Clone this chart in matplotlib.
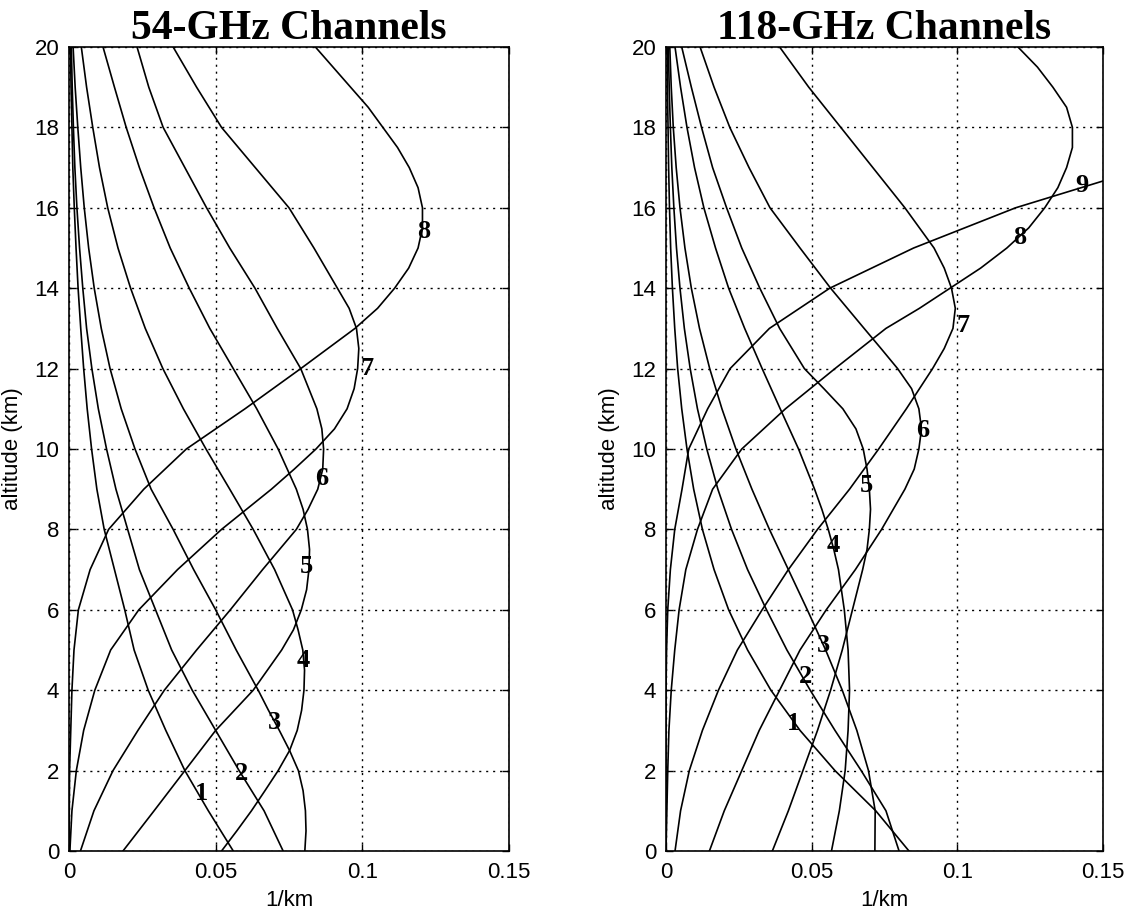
import numpy as np
import matplotlib
matplotlib.use("Agg")
import matplotlib.pyplot as plt

plt.rcParams["font.family"] = ["Liberation Sans", "DejaVu Sans"]

# altitude grid (km)
ALT = list(np.arange(0, 21, 1.0))

# 54-GHz channel weighting functions (1/km), channels 1..8
W54_1 = [0.056, 0.0475, 0.0395, 0.033, 0.027, 0.0222, 0.019, 0.0155, 0.012, 0.0095, 0.0077,
         0.0062, 0.005, 0.004, 0.0031, 0.0024, 0.0018, 0.0013, 0.001, 0.0007, 0.0005]
W54_2 = [0.073, 0.0665, 0.058, 0.050, 0.042, 0.035, 0.0295, 0.024, 0.020, 0.016, 0.0128,
         0.010, 0.0078, 0.006, 0.0047, 0.0036, 0.0027, 0.002, 0.0015, 0.0011, 0.0008]
ALT54_3 = [0, 0.5, 1, 1.5, 2, 2.5, 3, 3.5, 4, 5, 6, 7, 8, 9, 10, 11, 12, 13, 14, 15, 16,
           17, 18, 19, 20]
W54_3 = [0.0804, 0.0808, 0.0806, 0.0798, 0.0782, 0.0752, 0.0717, 0.068, 0.0645, 0.057,
         0.050, 0.0425, 0.0355, 0.028, 0.0225, 0.0178, 0.014, 0.011, 0.0086, 0.0067, 0.0052,
         0.004, 0.003, 0.0021, 0.0014]
ALT54_4 = [0, 0.5, 1, 1.5, 2, 2.5, 3, 3.5, 4, 4.5, 5, 5.5, 6, 7, 8, 9, 10, 11, 12, 13, 14,
           15, 16, 17, 18, 19, 20]
W54_4 = [0.052, 0.0572, 0.0622, 0.0668, 0.0713, 0.0752, 0.0778, 0.0793, 0.0801, 0.0803,
         0.0797, 0.0781, 0.0762, 0.0701, 0.0628, 0.0548, 0.0467, 0.039, 0.032, 0.026, 0.021,
         0.0167, 0.0132, 0.0104, 0.0081, 0.006, 0.0042]
ALT54_5 = [0, 1, 2, 3, 4, 5, 5.5, 6, 6.5, 7, 7.5, 8, 8.5, 9, 10, 11, 12, 13, 14, 15, 16,
           17, 18, 19, 20]
W54_5 = [0.0184, 0.029, 0.0395, 0.050, 0.0628, 0.0725, 0.0765, 0.0792, 0.081, 0.0818,
         0.082, 0.0813, 0.0798, 0.0775, 0.0713, 0.064, 0.056, 0.048, 0.041, 0.0345, 0.029,
         0.024, 0.0195, 0.0155, 0.0116]
ALT54_6 = [0, 1, 2, 3, 4, 5, 6, 7, 8, 8.5, 9, 9.5, 10, 10.5, 11, 12, 13, 14, 15, 16, 17,
           18, 19, 20]
W54_6 = [0.0039, 0.0085, 0.015, 0.0235, 0.0325, 0.0435, 0.055, 0.066, 0.0775, 0.0815,
         0.0848, 0.0865, 0.0868, 0.0862, 0.0845, 0.079, 0.071, 0.0634, 0.0548, 0.0469,
         0.0395, 0.0321, 0.0272, 0.0232]
ALT54_7 = [0, 1, 2, 3, 4, 5, 6, 7, 7.5, 8, 8.5, 9, 9.5, 10, 10.5, 11, 11.5, 12, 12.5, 13,
           13.5, 14, 15, 16, 17, 18, 19, 20]
W54_7 = [0.0003, 0.001, 0.0025, 0.005, 0.0088, 0.0142, 0.0238, 0.037, 0.0445, 0.052,
         0.0605, 0.069, 0.0768, 0.0842, 0.0905, 0.0948, 0.0972, 0.0984, 0.0988, 0.098,
         0.0955, 0.0915, 0.0835, 0.075, 0.0635, 0.052, 0.0435, 0.0355]
ALT54_8 = [0, 2, 4, 5, 6, 7, 8, 9, 10, 11, 12, 13, 13.5, 14, 14.5, 15, 15.5, 16, 16.5,
           17, 17.5, 18, 18.5, 19, 19.5, 20]
W54_8 = [0.0, 0.0002, 0.001, 0.0017, 0.0032, 0.0072, 0.0135, 0.0255, 0.040, 0.060, 0.079,
         0.0975, 0.1052, 0.111, 0.1158, 0.119, 0.1205, 0.1205, 0.119, 0.116, 0.112, 0.107,
         0.102, 0.096, 0.090, 0.084]

# 118-GHz channel weighting functions (1/km), channels 1..9
W118_1 = [0.0834, 0.072, 0.058, 0.046, 0.036, 0.028, 0.0215, 0.0165, 0.0125, 0.0095, 0.0072,
          0.0054, 0.004, 0.003, 0.0022, 0.0016, 0.0012, 0.0009, 0.0007, 0.0005, 0.0004]
W118_2 = [0.080, 0.0755, 0.067, 0.058, 0.0495, 0.0415, 0.0345, 0.028, 0.0225, 0.0178, 0.014,
          0.0108, 0.0083, 0.0063, 0.0048, 0.0036, 0.0027, 0.002, 0.0015, 0.0011, 0.0008]
W118_3 = [0.0717, 0.0718, 0.0695, 0.0655, 0.0605, 0.0548, 0.0485, 0.042, 0.0355, 0.0295,
          0.024, 0.0192, 0.015, 0.0115, 0.0087, 0.0065, 0.0048, 0.0035, 0.0025, 0.0018, 0.0013]
ALT118_4 = [0, 1, 2, 3, 4, 5, 6, 7, 7.5, 8, 8.5, 9, 10, 11, 12, 13, 14, 15, 16, 17, 18,
            19, 20]
W118_4 = [0.0568, 0.0595, 0.0615, 0.0625, 0.063, 0.0625, 0.0612, 0.0592, 0.0576, 0.0557,
          0.0535, 0.051, 0.0455, 0.0392, 0.033, 0.027, 0.0215, 0.017, 0.013, 0.0098, 0.0072,
          0.005, 0.0031]
ALT118_5 = [0, 1, 2, 3, 4, 5, 6, 7, 7.5, 8, 8.5, 9, 9.5, 10, 10.5, 11, 11.5, 12, 13, 14,
            15, 16, 17, 18, 19, 20]
W118_5 = [0.0365, 0.042, 0.047, 0.052, 0.0565, 0.0605, 0.064, 0.0675, 0.069, 0.0698,
          0.0702, 0.0698, 0.069, 0.0677, 0.0652, 0.0607, 0.0542, 0.0475, 0.039, 0.0322,
          0.026, 0.0208, 0.016, 0.0122, 0.0087, 0.0054]
ALT118_6 = [0, 1, 2, 3, 4, 5, 6, 7, 8, 9, 9.5, 10, 10.5, 11, 11.5, 12, 12.5, 13, 14, 15,
            16, 17, 18, 19, 20]
W118_6 = [0.0149, 0.020, 0.026, 0.032, 0.039, 0.046, 0.055, 0.065, 0.074, 0.082, 0.0852,
          0.0868, 0.0877, 0.0868, 0.0843, 0.0795, 0.0738, 0.068, 0.0565, 0.046, 0.0357,
          0.0285, 0.0219, 0.0165, 0.0117]
ALT118_7 = [0, 1, 2, 3, 4, 5, 6, 7, 8, 9, 10, 11, 12, 12.5, 13, 13.5, 14, 14.5, 15, 16,
            17, 18, 19, 20]
W118_7 = [0.0031, 0.005, 0.008, 0.0125, 0.018, 0.0245, 0.033, 0.042, 0.052, 0.063, 0.073,
          0.0825, 0.0915, 0.0955, 0.0985, 0.0993, 0.098, 0.0955, 0.092, 0.082, 0.071, 0.060,
          0.049, 0.039]
ALT118_8 = [0, 1, 2, 3, 4, 5, 6, 7, 8, 9, 10, 11, 12, 13, 13.5, 14, 14.5, 15, 15.5, 16,
            16.5, 17, 17.5, 18, 18.5, 19, 19.5, 20]
W118_8 = [0.0, 0.0003, 0.0006, 0.001, 0.0018, 0.003, 0.0045, 0.0068, 0.0108, 0.016, 0.026,
          0.041, 0.058, 0.0755, 0.087, 0.0975, 0.108, 0.117, 0.1245, 0.130, 0.1345, 0.1375,
          0.1395, 0.1395, 0.1375, 0.1328, 0.1275, 0.1208]
ALT118_9 = list(np.arange(0, 18, 1.0))
W118_9 = [0.0, 0.0, 0.0, 0.0, 0.0, 0.0002, 0.0006, 0.0015, 0.003, 0.0055, 0.0078,
          0.0143, 0.022, 0.0355, 0.0562, 0.085, 0.120, 0.165]

# curve number labels (x, altitude)
LBL54 = [(0.0452, 1.43), (0.0589, 1.93), (0.0702, 3.2), (0.0798, 4.74),
         (0.081, 7.07), (0.0862, 9.26), (0.1015, 12.0), (0.121, 15.4)]
LBL118 = [(0.0437, 3.17), (0.048, 4.33), (0.054, 5.12), (0.0574, 7.6),
          (0.0688, 9.09), (0.0882, 10.46), (0.102, 13.07), (0.1214, 15.26),
          (0.1426, 16.55)]

W = 1128
H = 913
fig = plt.figure(figsize=(W / 100, H / 100), dpi=100)
ax1 = fig.add_axes([69 / W, 62 / H, 440 / W, 804 / H])
ax2 = fig.add_axes([666 / W, 62 / H, 437 / W, 804 / H])


def setup(ax, title):
    ax.set_xlim(0, 0.15)
    ax.set_ylim(0, 20)
    ax.set_xticks([0, 0.05, 0.1, 0.15])
    ax.set_xticklabels(["0", "0.05", "0.1", "0.15"])
    ax.set_yticks(np.arange(0, 21, 2))
    ax.tick_params(direction="in", length=5, width=1.0, top=True, right=True,
                   labelsize=16, pad=8)
    ax.tick_params(axis="y", pad=7)
    ax.grid(True, color="black", linestyle=(0, (1.5, 3.5)), linewidth=1.0)
    for s in ax.spines.values():
        s.set_linewidth(1.2)
    ax.set_xlabel("1/km", fontsize=16, labelpad=5)
    ax.set_ylabel("altitude (km)", fontsize=16, labelpad=8)
    ax.set_title(title, fontsize=30, fontweight="bold", family="Liberation Serif", pad=6)


def draw(ax, curves, labels):
    for (alt, w) in curves:
        ax.plot(w, alt, color="black", linewidth=1.2, clip_on=True)
    for i, (x, y) in enumerate(labels):
        ax.text(x, y, str(i + 1), fontsize=19, fontweight="bold", family="Liberation Serif",
                ha="center", va="center")


setup(ax1, "54-GHz Channels")
setup(ax2, "118-GHz Channels")

draw(ax1, [(ALT, W54_1), (ALT, W54_2), (ALT54_3, W54_3), (ALT54_4, W54_4),
           (ALT54_5, W54_5), (ALT54_6, W54_6), (ALT54_7, W54_7), (ALT54_8, W54_8)], LBL54)
draw(ax2, [(ALT, W118_1), (ALT, W118_2), (ALT, W118_3), (ALT118_4, W118_4),
           (ALT118_5, W118_5), (ALT118_6, W118_6), (ALT118_7, W118_7), (ALT118_8, W118_8),
           (ALT118_9, W118_9)], LBL118)

fig.savefig("out.png", dpi=100)
